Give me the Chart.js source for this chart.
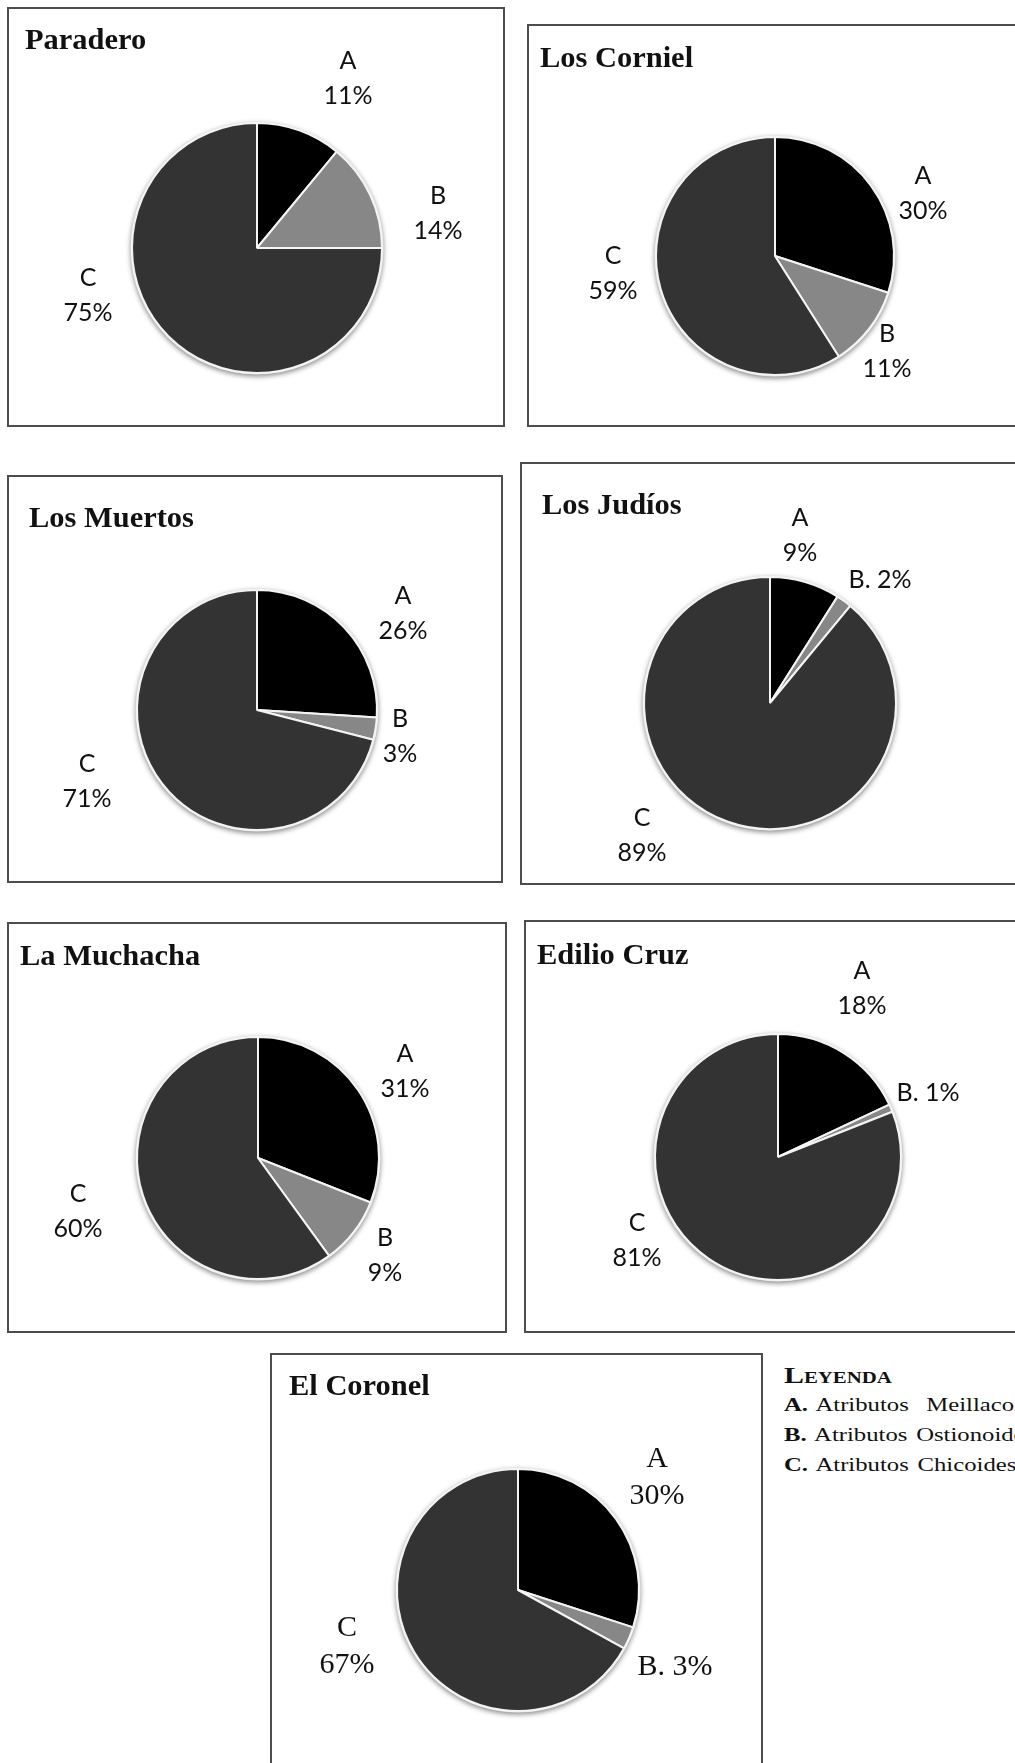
<!DOCTYPE html>
<html>
<head>
<meta charset="utf-8">
<script src="https://cdn.jsdelivr.net/npm/chart.js@4.4.0/dist/chart.umd.min.js"></script>
<style>
    body {
        margin: 0;
        width: 1015px;
        height: 1763px;
        overflow: hidden;
        position: relative;
        background: #fff;
    }
    .panel {
        position: absolute;
        box-sizing: border-box;
        border: 2px solid #4d4d4d;
        background: #fff;
    }
    .panel canvas {
        position: absolute;
        left: -2px;
        top: -2px;
    }
    .panel-title {
        position: absolute;
        font-family: "Liberation Serif", serif;
        font-weight: bold;
        font-size: 29px;
        line-height: 34px;
        color: #111;
        white-space: nowrap;
        transform: scaleX(1.05);
        transform-origin: left center;
        z-index: 2;
    }
    .legend {
        position: absolute;
        left: 784px;
        top: 1362px;
        font-family: "Liberation Serif", serif;
        font-size: 19px;
        line-height: 30px;
        word-spacing: 2px;
        color: #111;
        white-space: nowrap;
        transform: scaleX(1.3);
        transform-origin: left top;
    }
    .legend .head {
        font-weight: bold;
        font-variant: small-caps;
        font-size: 23px;
        line-height: 28px;
    }
</style>
</head>
<body>
<div id="panels"></div>
<div class="legend" id="legend"></div>

<script>
// ---- data ----
const sites = ['Paradero', 'Los Corniel', 'Los Muertos', 'Los Judíos', 'La Muchacha', 'Edilio Cruz', 'El Coronel'];
const categories = ['A', 'B', 'C'];
const attrA = [11, 30, 26, 9, 31, 18, 30];
const attrB = [14, 11, 3, 2, 9, 1, 3];
const attrC = [75, 59, 71, 89, 60, 81, 67];
const legendTitle = 'Leyenda';
const legendItems = ['Atributos\u00a0\u00a0Meillacoides', 'Atributos Ostionoides', 'Atributos Chicoides'];

// ---- layout ----
const boxes = [
    { left: 7,   top: 7,    w: 498, h: 420, cx: 250, cy: 241, r: 125, tx: 16, ty: 13 },
    { left: 527, top: 24,   w: 520, h: 403, cx: 248, cy: 232, r: 119, tx: 11, ty: 14 },
    { left: 7,   top: 475,  w: 496, h: 408, cx: 250, cy: 235, r: 120, tx: 20, ty: 23 },
    { left: 520, top: 462,  w: 520, h: 423, cx: 250, cy: 241, r: 126, tx: 20, ty: 23 },
    { left: 7,   top: 922,  w: 500, h: 411, cx: 251, cy: 236, r: 121, tx: 11, ty: 14 },
    { left: 524, top: 920,  w: 520, h: 413, cx: 254, cy: 237, r: 123, tx: 11, ty: 15 },
    { left: 270, top: 1353, w: 493, h: 450, cx: 248, cy: 237, r: 121, tx: 17, ty: 13 }
];
// label block offsets from pie centre, per slice A, B, C
const labelOffsets = [
    [[91, -170], [181, -35], [-169, 47]],
    [[148, -63], [112, 95], [-162, 17]],
    [[146, -97], [143, 26], [-170, 71]],
    [[30, -168], [110, -123], [-128, 132]],
    [[147, -87], [127, 97], [-180, 53]],
    [[84, -169], [150, -64], [-141, 83]],
    [[139, -112], [157, 77], [-171, 57]]
];
const inlineB = [false, false, false, true, false, true, true];
const serifLabels = [false, false, false, false, false, false, true];

const sliceColors = ['#000000', '#878787', '#333333'];

let charts = {};

const pieDecor = {
    id: 'pieDecor',
    beforeDatasetsDraw(chart) {
        const arc = chart.getDatasetMeta(0).data[0];
        if (!arc) return;
        const ctx = chart.ctx;
        ctx.save();
        ctx.shadowColor = 'rgba(0, 0, 0, 0.45)';
        ctx.shadowBlur = 5;
        ctx.shadowOffsetY = 2;
        ctx.beginPath();
        ctx.arc(arc.x, arc.y, arc.outerRadius + 1.5, 0, Math.PI * 2);
        ctx.fillStyle = '#e8e8e8';
        ctx.fill();
        ctx.restore();
    },
    afterDatasetsDraw(chart, args, opts) {
        const meta = chart.getDatasetMeta(0);
        const ctx = chart.ctx;
        const values = chart.data.datasets[0].data;
        ctx.save();
        ctx.fillStyle = '#111';
        ctx.textAlign = 'center';
        ctx.textBaseline = 'middle';
        ctx.font = opts.font;
        meta.data.forEach((arc, i) => {
            const [dx, dy] = opts.offsets[i];
            const x = arc.x + dx;
            const y = arc.y + dy;
            const name = chart.data.labels[i];
            if (i === 1 && opts.inline) {
                ctx.fillText(name + '. ' + values[i] + '%', x, y);
            } else {
                ctx.fillText(name, x, y - opts.gap / 2);
                ctx.fillText(values[i] + '%', x, y + opts.gap / 2);
            }
        });
        ctx.restore();
    }
};

function createPanel(idx) {
    const b = boxes[idx];
    const panel = document.createElement('div');
    panel.className = 'panel';
    panel.style.left = b.left + 'px';
    panel.style.top = b.top + 'px';
    panel.style.width = b.w + 'px';
    panel.style.height = b.h + 'px';

    const title = document.createElement('div');
    title.className = 'panel-title';
    title.style.left = b.tx + 'px';
    title.style.top = b.ty + 'px';
    title.textContent = sites[idx];
    panel.appendChild(title);

    const canvas = document.createElement('canvas');
    canvas.width = b.w;
    canvas.height = b.h;
    canvas.style.width = b.w + 'px';
    canvas.style.height = b.h + 'px';
    panel.appendChild(canvas);
    document.getElementById('panels').appendChild(panel);

    charts[sites[idx]] = new Chart(canvas.getContext('2d'), {
        type: 'pie',
        data: {
            labels: categories,
            datasets: [{
                data: [attrA[idx], attrB[idx], attrC[idx]],
                backgroundColor: sliceColors,
                borderColor: '#f4f4f4',
                borderWidth: 2
            }]
        },
        options: {
            responsive: false,
            animation: false,
            events: [],
            radius: b.r,
            layout: {
                padding: {
                    left: b.cx - b.r,
                    top: b.cy - b.r,
                    right: b.w - b.cx - b.r,
                    bottom: b.h - b.cy - b.r
                }
            },
            plugins: {
                legend: { display: false },
                tooltip: { enabled: false },
                pieDecor: {
                    offsets: labelOffsets[idx],
                    inline: inlineB[idx],
                    gap: serifLabels[idx] ? 37 : 35,
                    font: serifLabels[idx] ? '30px "Liberation Serif"' : '25px Lato'
                }
            }
        },
        plugins: [pieDecor]
    });
}

function buildLegend() {
    const el = document.getElementById('legend');
    let html = '<div class="head">' + legendTitle + '</div>';
    categories.forEach((c, i) => {
        html += '<div><b>' + c + '.</b> ' + legendItems[i] + '</div>';
    });
    el.innerHTML = html;
}

window.onload = function() {
    sites.forEach((s, i) => createPanel(i));
    buildLegend();
};
</script>
</body>
</html>
